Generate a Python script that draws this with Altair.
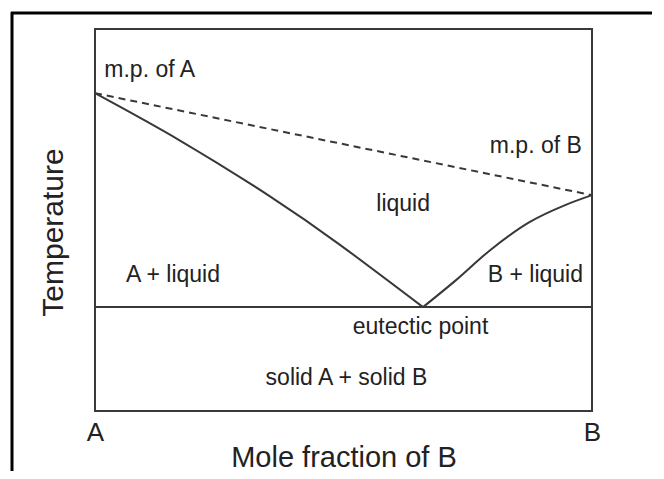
import altair as alt
import pandas as pd

# Liquidus curves (x = mole fraction of B, y = relative temperature)
left_x = [0.0, 0.171, 0.352, 0.493, 0.66]
left_y = [0.832, 0.708, 0.562, 0.435, 0.272]
right_x = [0.66, 0.724, 0.795, 0.875, 0.946, 1.0]
right_y = [0.272, 0.340, 0.421, 0.495, 0.539, 0.565]
# dashed line joining melting points
mp_x = [0.0, 1.0]
mp_y = [0.832, 0.565]
# eutectic temperature
eutectic_T = 0.272

label_text = ["m.p. of A", "A + liquid", "B + liquid", "m.p. of B", "liquid",
              "eutectic point", "solid A + solid B"]
label_x = [0.110, 0.157, 0.886, 0.887, 0.620, 0.655, 0.506]
label_y = [0.875, 0.338, 0.338, 0.675, 0.524, 0.202, 0.068]

FONT = "Liberation Sans"
LINE = "#383838"

xs = alt.Scale(domain=[0, 1], nice=False, zero=False)
ys = alt.Scale(domain=[0, 1], nice=False, zero=False)

left_df = pd.DataFrame({"x": left_x, "y": left_y})
right_df = pd.DataFrame({"x": right_x, "y": right_y})
mp_df = pd.DataFrame({"x": mp_x, "y": mp_y})
eut_df = pd.DataFrame({"x": [0.0], "x2": [1.0], "y": [eutectic_T]})
lab_df = pd.DataFrame({"t": label_text, "x": label_x, "y": label_y})

xaxis = alt.Axis(values=[0, 1], labelExpr="datum.value == 0 ? 'A' : 'B'",
                 ticks=False, tickSize=0, domain=False, grid=False,
                 labelFontSize=26, labelFont=FONT, labelColor="#222",
                 labelBaseline="alphabetic", labelPadding=29, labelFlush=False,
                 title="Mole fraction of B", titleFontSize=29, titleFont=FONT,
                 titleFontWeight="normal", titleColor="#222",
                 titleBaseline="alphabetic", titleY=55)
yaxis = alt.Axis(labels=False, ticks=False, tickSize=0, domain=False, grid=False,
                 title="Temperature", titleFontSize=30, titleFont=FONT,
                 titleFontWeight="normal", titleColor="#222",
                 titleBaseline="alphabetic", titleX=-33, titleY=203, titleAngle=270)

left = alt.Chart(left_df).mark_line(color=LINE, strokeWidth=2, interpolate="natural").encode(
    x=alt.X("x:Q", scale=xs, axis=xaxis),
    y=alt.Y("y:Q", scale=ys, axis=yaxis),
)
right = alt.Chart(right_df).mark_line(color=LINE, strokeWidth=2, interpolate="monotone").encode(
    x=alt.X("x:Q", scale=xs), y=alt.Y("y:Q", scale=ys))
mp = alt.Chart(mp_df).mark_line(color=LINE, strokeWidth=2, strokeDash=[7, 5]).encode(
    x=alt.X("x:Q", scale=xs), y=alt.Y("y:Q", scale=ys))
eut = alt.Chart(eut_df).mark_rule(color=LINE, strokeWidth=2).encode(
    x=alt.X("x:Q", scale=xs), x2="x2:Q", y=alt.Y("y:Q", scale=ys))
labels = alt.Chart(lab_df).mark_text(font=FONT, fontSize=23, color="#222",
                                     align="center", baseline="alphabetic").encode(
    x=alt.X("x:Q", scale=xs), y=alt.Y("y:Q", scale=ys), text="t:N")

# outer picture frame (decoration)
frame_left = alt.Chart(eut_df).mark_rule(color="#000", strokeWidth=3).encode(
    x=alt.value(-83), y=alt.value(-17), y2=alt.value(500))
frame_top = alt.Chart(eut_df).mark_rule(color="#000", strokeWidth=3).encode(
    x=alt.value(-84), x2=alt.value(700), y=alt.value(-16))

chart = alt.layer(left, right, mp, eut, labels, frame_left, frame_top).properties(
    width=497, height=382,
    autosize=alt.AutoSizeParams(type="none"),
    padding={"left": 87, "top": 21, "right": 60, "bottom": 60},
    background="white",
).configure_view(stroke="#3a3a3a", strokeWidth=2)

chart.save("out.html", embed_options={"renderer": "svg", "actions": False})
